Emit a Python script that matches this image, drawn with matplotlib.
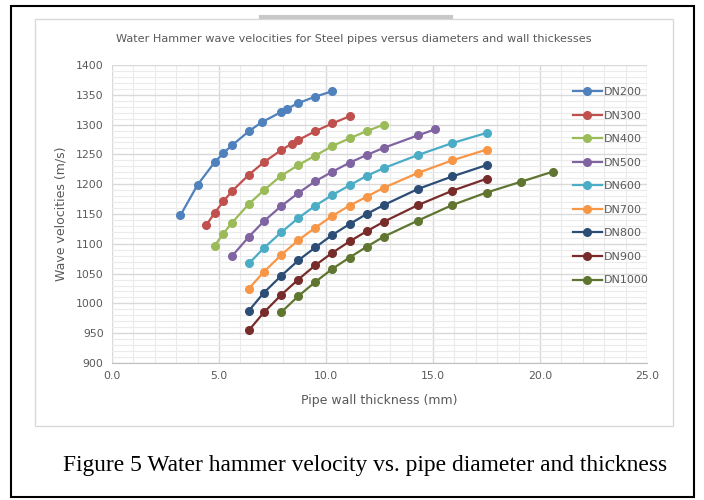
import numpy as np
import matplotlib
matplotlib.use("Agg")
import matplotlib.pyplot as plt
from matplotlib.patches import Rectangle
from matplotlib.lines import Line2D
from matplotlib.ticker import MultipleLocator, FormatStrFormatter

# wall thickness (mm) per series
t200 = [3.2, 4.0, 4.8, 5.2, 5.6, 6.4, 7.0, 7.9, 8.2, 8.7, 9.5, 10.3]
t300 = [4.4, 4.8, 5.2, 5.6, 6.4, 7.1, 7.9, 8.4, 8.7, 9.5, 10.3, 11.1]
t400 = [4.8, 5.2, 5.6, 6.4, 7.1, 7.9, 8.7, 9.5, 10.3, 11.1, 11.9, 12.7]
t500 = [5.6, 6.4, 7.1, 7.9, 8.7, 9.5, 10.3, 11.1, 11.9, 12.7, 14.3, 15.1]
t600 = [6.4, 7.1, 7.9, 8.7, 9.5, 10.3, 11.1, 11.9, 12.7, 14.3, 15.9, 17.5]
t1000 = [7.9, 8.7, 9.5, 10.3, 11.1, 11.9, 12.7, 14.3, 15.9, 17.5, 19.1, 20.6]

# wave velocities (m/s)
v200 = [1148, 1199, 1237, 1252, 1265, 1289, 1304, 1321, 1327, 1336, 1347, 1356]
v300 = [1131, 1152, 1171, 1188, 1216, 1237, 1257, 1268, 1274, 1289, 1302, 1314]
v400 = [1097, 1117, 1135, 1167, 1190, 1214, 1232, 1248, 1264, 1277, 1289, 1300]
v500 = [1079, 1112, 1138, 1163, 1185, 1205, 1221, 1236, 1249, 1261, 1282, 1292]
v600 = [1067, 1093, 1119, 1143, 1164, 1182, 1198, 1214, 1227, 1249, 1269, 1286]
v700 = [1025, 1053, 1081, 1106, 1127, 1147, 1164, 1179, 1194, 1219, 1240, 1258]
v800 = [988, 1018, 1046, 1072, 1094, 1115, 1133, 1150, 1165, 1192, 1213, 1232]
v900 = [955, 985, 1014, 1040, 1064, 1085, 1104, 1121, 1137, 1165, 1189, 1209]
v1000 = [985, 1012, 1036, 1058, 1077, 1095, 1112, 1139, 1165, 1186, 1204, 1221]

labels = ["DN200", "DN300", "DN400", "DN500", "DN600", "DN700", "DN800", "DN900", "DN1000"]
thick = [t200, t300, t400, t500, t600, t600, t600, t600, t1000]
vel = [v200, v300, v400, v500, v600, v700, v800, v900, v1000]
colors = ["#4F81BD", "#C0504D", "#9BBB59", "#8064A2", "#4BACC6",
          "#F79646", "#2C4D75", "#772C2A", "#5F7530"]

W, H = 704, 500
fig = plt.figure(figsize=(W / 100, H / 100), dpi=100)

def px(x0, y0, x1, y1):
    return [x0 / W, 1 - y1 / H, (x1 - x0) / W, (y1 - y0) / H]

# outer frame, chart frame and the grey bar at top
fig.patches.append(Rectangle((11 / W, 1 - 497 / H), 683 / W, 491 / H, transform=fig.transFigure,
                             fill=False, edgecolor="black", linewidth=1.5))
fig.patches.append(Rectangle((35 / W, 1 - 426 / H), 638 / W, 407 / H, transform=fig.transFigure,
                             fill=False, edgecolor="#D9D9D9", linewidth=1))
fig.lines.append(Line2D([261 / W, 451 / W], [1 - 17 / H, 1 - 17 / H], transform=fig.transFigure,
                        color="#C8C8C8", linewidth=3))

ax = fig.add_axes(px(112, 65, 647, 363))
for t, v, lab, c in zip(thick, vel, labels, colors):
    ax.plot(t, v, color=c, marker="o", markersize=5.5, linewidth=1.6, label=lab)

ax.set_xlim(0, 25)
ax.set_ylim(900, 1400)
ax.xaxis.set_major_locator(MultipleLocator(5))
ax.xaxis.set_minor_locator(MultipleLocator(1))
ax.yaxis.set_major_locator(MultipleLocator(50))
ax.yaxis.set_minor_locator(MultipleLocator(10))
ax.xaxis.set_major_formatter(FormatStrFormatter("%.1f"))
ax.grid(True, which="major", color="#D9D9D9", linewidth=1)
ax.grid(True, which="minor", color="#EBEBEB", linewidth=0.8)
ax.set_axisbelow(True)
ax.tick_params(which="both", length=0, labelsize=7.8, labelcolor="#595959", pad=6)
for s in ["top", "right", "left"]:
    ax.spines[s].set_visible(False)
ax.spines["bottom"].set_color("#BFBFBF")

ax.set_xlabel("Pipe wall thickness (mm)", fontsize=9, color="#595959", labelpad=9)
ax.set_ylabel("Wave velocities (m/s)", fontsize=9, color="#595959", labelpad=6)

fig.text(354 / W, 1 - 39 / H, "Water Hammer wave velocities for Steel pipes versus diameters and wall thickesses",
         ha="center", va="center", fontsize=8.1, color="#595959")

leg = fig.legend(loc="upper left", bbox_to_anchor=(563 / W, 1 - 77 / H), frameon=False,
                 fontsize=8, labelspacing=1.22, handlelength=2.6, handletextpad=0.2)
for txt in leg.get_texts():
    txt.set_color("#595959")

fig.text(63 / W, 1 - 466 / H, "Figure 5 Water hammer velocity vs. pipe diameter and thickness",
         ha="left", va="center", fontsize=16.9, color="black", family="Liberation Serif")

fig.savefig("out.png", dpi=100)
